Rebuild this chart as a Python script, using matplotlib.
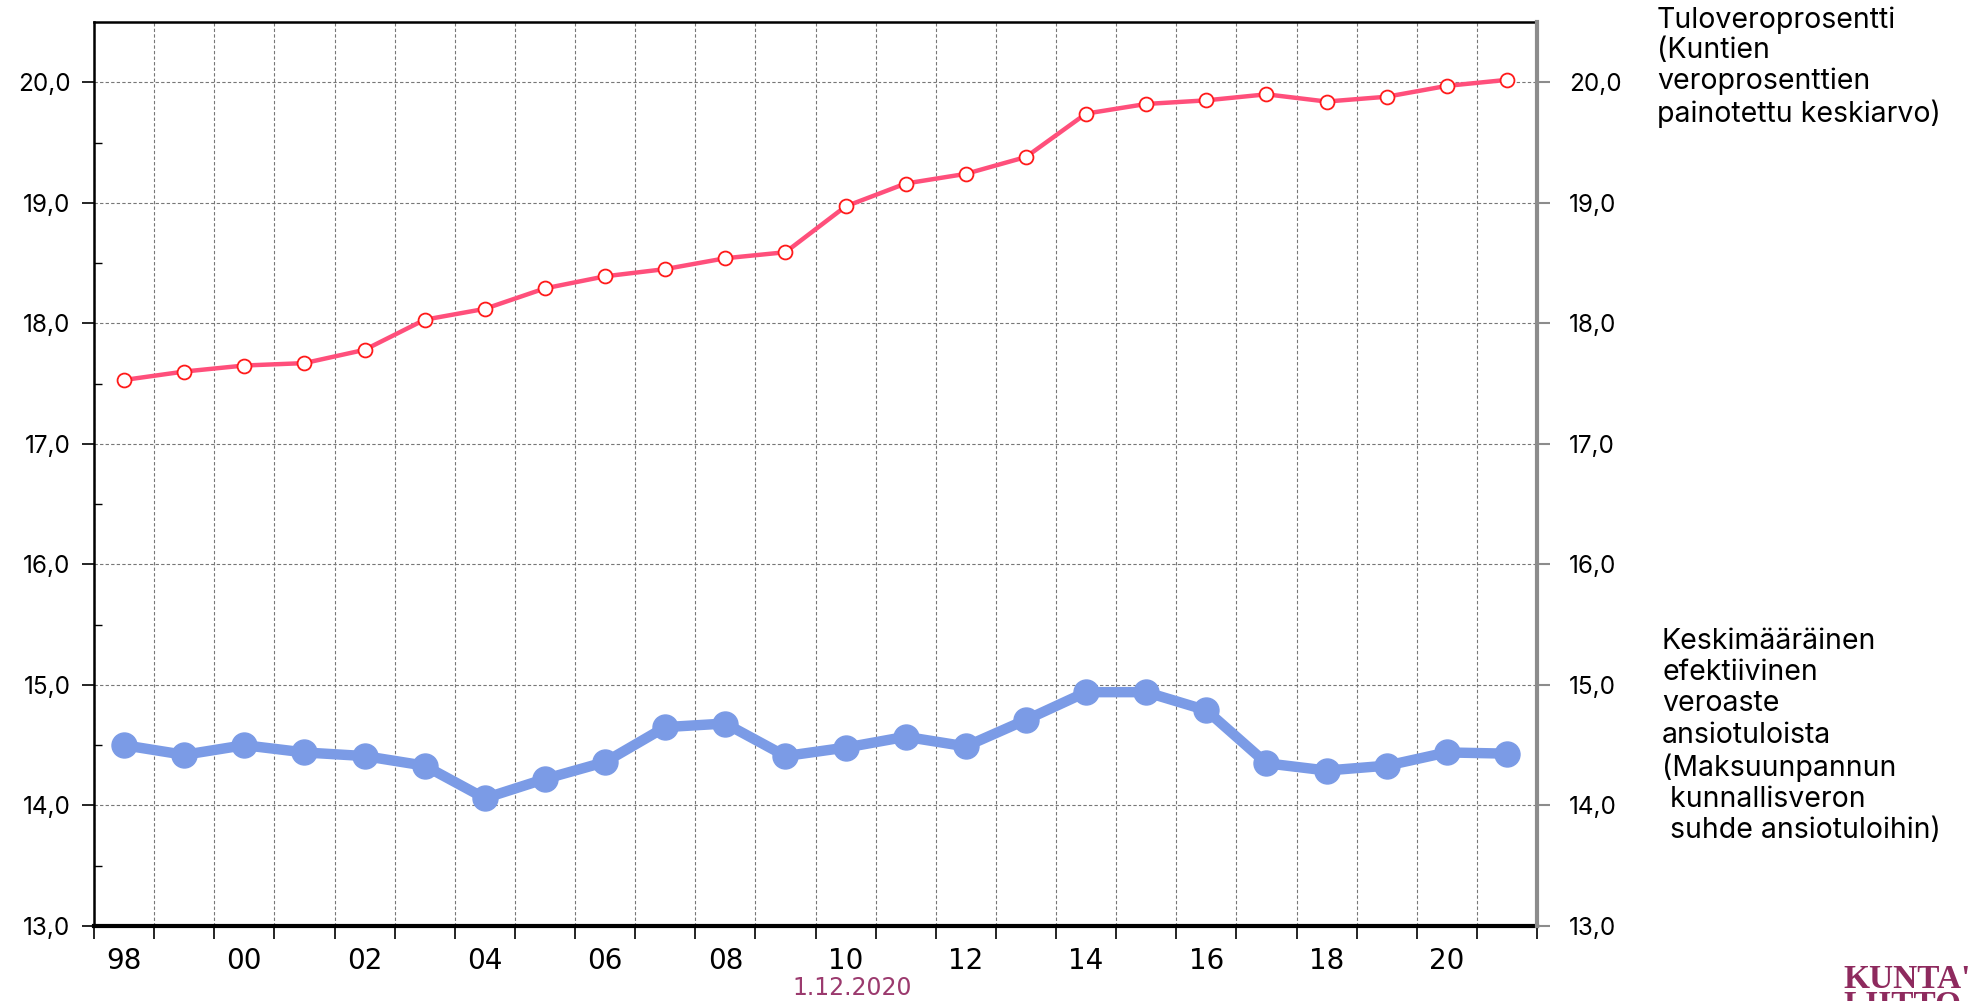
import matplotlib
matplotlib.use("Agg")
import matplotlib.pyplot as plt
import numpy as np
from matplotlib.ticker import FixedLocator, NullFormatter

years = list(range(1998, 2022))
year_labels = ["98", "00", "02", "04", "06", "08", "10", "12", "14", "16", "18", "20"]

# tuloveroprosentti (painotettu keskiarvo)
tulovero = [17.53, 17.60, 17.65, 17.67, 17.78, 18.03, 18.12, 18.29, 18.39, 18.45,
            18.54, 18.59, 18.97, 19.16, 19.24, 19.38, 19.74, 19.82, 19.85, 19.90,
            19.84, 19.88, 19.97, 20.02]

# efektiivinen veroaste ansiotuloista
efektiivinen = [14.50, 14.42, 14.50, 14.44, 14.41, 14.33, 14.06, 14.22, 14.36, 14.65,
                14.68, 14.41, 14.48, 14.57, 14.49, 14.71, 14.94, 14.94, 14.79, 14.35,
                14.29, 14.33, 14.44, 14.43]

y_ticks = [13, 14, 15, 16, 17, 18, 19, 20]
y_labels = ["13,0", "14,0", "15,0", "16,0", "17,0", "18,0", "19,0", "20,0"]

fnt = "Inter"
narrow = ["Liberation Sans Narrow", "DejaVu Sans"]
x = np.arange(len(years))

fig = plt.figure(figsize=(19.77, 10.01), dpi=100)
ax = fig.add_axes([94 / 1977, 1 - 926 / 1001, (1537 - 94) / 1977, (926 - 22) / 1001])

ax.plot(x, tulovero, color="#ff4f7b", lw=3.2, marker="o", ms=10,
        mfc="white", mec="#ff1a1a", mew=1.3, zorder=4, clip_on=False)
ax.plot(x, efektiivinen, color="#7b9be6", lw=7.5, marker="o", ms=18,
        mfc="#7b9be6", mec="#7b9be6", zorder=4, clip_on=False)

ax.set_xlim(-0.5, len(years) - 0.5)
ax.set_ylim(13, 20.5)

# x: ticks + grid at boundaries, labels at every other year
ax.xaxis.set_major_locator(FixedLocator(np.arange(-0.5, len(years), 1.0)))
ax.xaxis.set_major_formatter(NullFormatter())
ax.xaxis.set_minor_locator(FixedLocator(x[::2]))
ax.set_xticklabels(year_labels, minor=True)
ax.tick_params(axis="x", which="major", direction="out", length=9, width=1.2, color="black")
ax.tick_params(axis="x", which="minor", length=0, pad=15, labelsize=20)
for t in ax.get_xticklabels(minor=True):
    t.set_family(narrow)

# y left
ax.set_yticks(y_ticks)
ax.set_yticklabels(y_labels, fontsize=17.5, family=fnt)
ax.yaxis.set_minor_locator(FixedLocator(np.arange(13.5, 20.5, 1.0)))
ax.tick_params(axis="y", which="major", direction="out", length=9, width=1.2, color="black", pad=8)
ax.tick_params(axis="y", which="minor", direction="in", length=6, width=1.0, color="black")

ax.grid(True, which="major", color="#777777", ls=(0, (3, 2)), lw=0.8)
ax.set_axisbelow(True)

for s in ["left", "top"]:
    ax.spines[s].set_linewidth(1.8)
    ax.spines[s].set_color("black")
ax.spines["bottom"].set_linewidth(3)
ax.spines["right"].set_visible(False)

# right axis
ax2 = ax.twinx()
ax2.set_ylim(13, 20.5)
ax2.set_yticks(y_ticks)
ax2.set_yticklabels(y_labels, fontsize=17.5, family=fnt)
ax2.tick_params(axis="y", direction="out", length=9, width=1.5, color="#8c8c8c", pad=14)
for s in ["left", "top", "bottom"]:
    ax2.spines[s].set_visible(False)
ax2.spines["right"].set_color("#8c8c8c")
ax2.spines["right"].set_linewidth(3)

# series annotations
fig.text(1657 / 1977, 1 - 6 / 1001,
         "Tuloveroprosentti\n(Kuntien\nveroprosenttien\npainotettu keskiarvo)",
         fontsize=20.5, family=fnt, va="top", ha="left", linespacing=1.17)
fig.text(1662 / 1977, 1 - 628 / 1001,
         "Keskimääräinen\nefektiivinen\nveroaste\nansiotuloista\n(Maksuunpannun\n kunnallisveron\n suhde ansiotuloihin)",
         fontsize=20.5, family=fnt, va="top", ha="left", linespacing=1.2)

fig.text(852 / 1977, 1 - 988 / 1001, "1.12.2020", fontsize=17, color="#9b3a6e",
         family=narrow, ha="center", va="center")

fig.text(1843 / 1977, 1 - 964 / 1001, "KUNTA'\nLIITTO", fontsize=24, color="#8e2a5e",
         family="Liberation Serif", weight="bold", ha="left", va="top", linespacing=0.8)

fig.savefig("out.png", dpi=100)
